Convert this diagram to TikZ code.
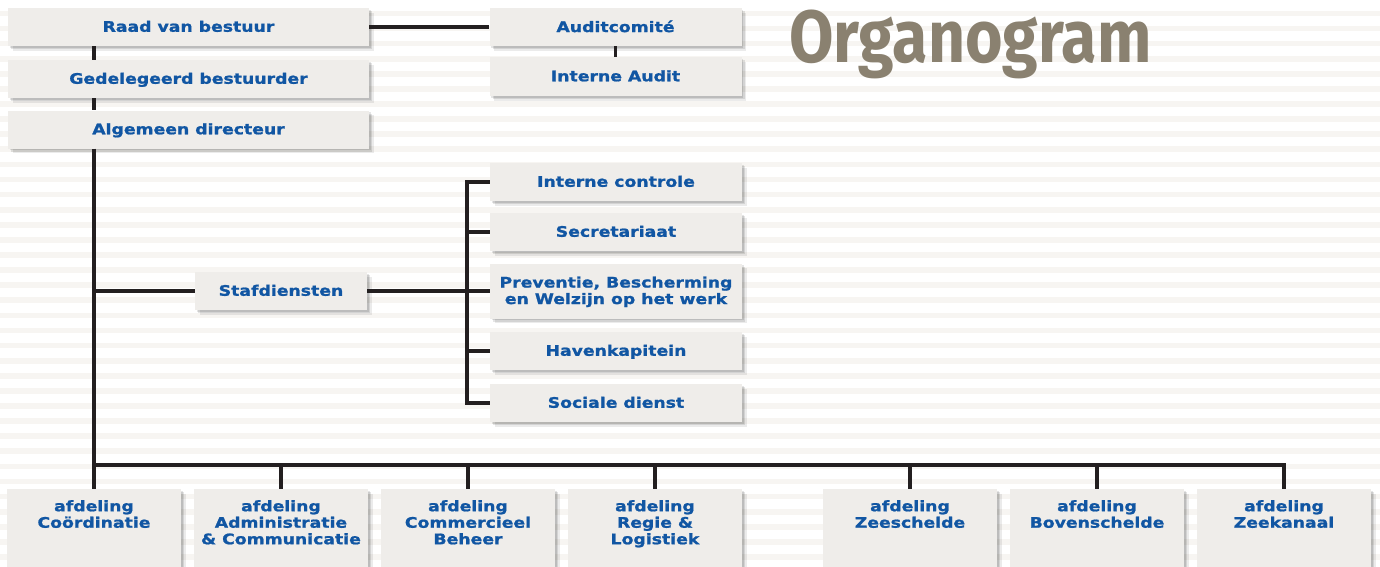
\documentclass[tikz,border=0pt]{standalone}
\usepackage{fontspec}
\usetikzlibrary{shadows,calc}
\newfontfamily\boxfont{DejaVu Sans}[FakeStretch=1.19, BoldFeatures={FakeBold=1.2}]
\newfontfamily\titlefont{Fira Sans}[FakeStretch=0.87]
\definecolor{orgblue}{HTML}{1156A3}
\definecolor{boxfill}{HTML}{EFEDEA}
\definecolor{linecol}{HTML}{231F20}
\definecolor{titlecol}{HTML}{8A8170}
\definecolor{stripecol}{HTML}{F7F5F2}
\tikzset{
  softshadow/.style={
    general shadow={fill=black, opacity=0.10, shadow xshift=1.5pt, shadow yshift=-1.5pt},
    general shadow={fill=black, opacity=0.10, shadow xshift=3pt, shadow yshift=-3pt},
    general shadow={fill=black, opacity=0.08, shadow xshift=4.5pt, shadow yshift=-4.5pt}},
  orgbox/.style={softshadow, fill=boxfill, inner sep=0pt, text=orgblue,
    font=\boxfont\bfseries\fontsize{14.5}{16.5}\selectfont, align=center,
    minimum height=38pt, text depth=1.5pt},
  deptbox/.style={softshadow, fill=boxfill, inner sep=0pt, text=orgblue,
    font=\boxfont\bfseries\fontsize{14.5}{16.5}\selectfont, anchor=north},
  conn/.style={draw=linecol, line width=3.2pt},
}
\newcommand{\deptlabel}[1]{\parbox[c][100pt][t]{174pt}{\centering\vspace*{11pt}#1}}
\begin{document}
\begin{tikzpicture}[x=1pt,y=-1pt]
\clip (0,0) rectangle (1380,566);
\fill[white] (0,0) rectangle (1380,566);
\foreach \k in {0,...,37}
  \fill[stripecol] (0,{10.5+15.1*\k}) rectangle (1380,{16.2+15.1*\k});

% title
\node[anchor=base west, inner sep=0pt, text=titlecol,
      font=\titlefont\bfseries\fontsize{74}{80}\selectfont] (title) at (789,62) {Organogram};

% top-left column
\node[orgbox, minimum width=361pt] (raad) at (188.5,27) {Raad van bestuur};
\node[orgbox, minimum width=361pt] (gedel) at (188.5,79) {Gedelegeerd bestuurder};
\node[orgbox, minimum width=361pt] (alg) at (188.5,129.5) {Algemeen directeur};

% audit
\node[orgbox, minimum width=252pt] (auditc) at (615.5,27) {Auditcomité};
\node[orgbox, minimum width=252pt, minimum height=39pt] (intaudit) at (615.5,76.5) {Interne Audit};

% staff
\node[orgbox, minimum width=172pt] (staf) at (281,291) {Stafdiensten};
\node[orgbox, minimum width=252pt] (ic) at (616,182) {Interne controle};
\node[orgbox, minimum width=252pt] (sec) at (616,232) {Secretariaat};
\node[orgbox, minimum width=252pt, minimum height=55pt] (prev) at (616,291) {Preventie, Bescherming\\en Welzijn op het werk};
\node[orgbox, minimum width=252pt] (hav) at (616,351) {Havenkapitein};
\node[orgbox, minimum width=252pt] (sd) at (616,403) {Sociale dienst};

% departments
\node[deptbox] (d1) at (94,489) {\deptlabel{afdeling\\Coördinatie}};
\node[deptbox] (d2) at (281,489) {\deptlabel{afdeling\\Administratie\\\& Communicatie}};
\node[deptbox] (d3) at (468,489) {\deptlabel{afdeling\\Commercieel\\Beheer}};
\node[deptbox] (d4) at (655,489) {\deptlabel{afdeling\\Regie \&\\Logistiek}};
\node[deptbox] (d5) at (910,489) {\deptlabel{afdeling\\Zeeschelde}};
\node[deptbox] (d6) at (1097,489) {\deptlabel{afdeling\\Bovenschelde}};
\node[deptbox] (d7) at (1284,489) {\deptlabel{afdeling\\Zeekanaal}};

% helper coordinates
\coordinate (spine) at (94,0);
\coordinate (br) at (467,0);
\coordinate (bus) at (0,465);

% connectors
\draw[conn] (raad.east) -- (auditc.west);
\draw[conn] (auditc.south) -- (intaudit.north);
\draw[conn] (raad.south -| spine) -- (gedel.north -| spine);
\draw[conn] (gedel.south -| spine) -- (alg.north -| spine);
\draw[conn] (alg.south -| spine) -- (bus -| spine) -- (d7.north |- bus) -- (d7.north);
\draw[conn] (staf.west -| spine) -- (staf.west);
\draw[conn] (staf.east) -- (prev.west);
\draw[conn] (ic.west) -- (ic.west -| br) -- (sd.west -| br) -- (sd.west);
\draw[conn] (sec.west -| br) -- (sec.west);
\draw[conn] (hav.west -| br) -- (hav.west);
\foreach \d in {d1,d2,d3,d4,d5,d6}
  \draw[conn] (\d.north |- bus) -- (\d.north);
\end{tikzpicture}
\end{document}
